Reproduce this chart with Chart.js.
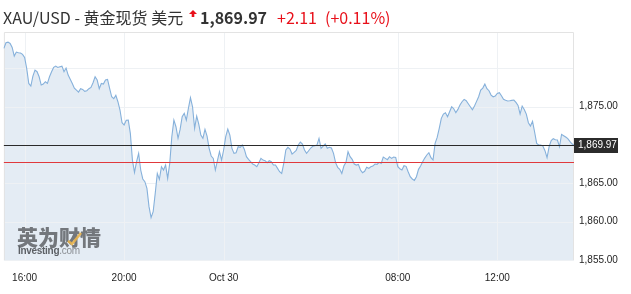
<!DOCTYPE html>
<html><head><meta charset="utf-8">
<script src="https://cdn.jsdelivr.net/npm/chart.js@4/dist/chart.umd.min.js"></script>
<style>
body{margin:0;background:#fff}
#wrap{position:relative;width:631px;height:294px;overflow:hidden}
canvas{position:absolute;left:0;top:0}
.t{position:absolute;top:9px;line-height:16px;font-size:16px;font-family:"Noto Sans CJK SC","Noto Sans",sans-serif;white-space:nowrap}
</style></head><body>
<div id="wrap">
<canvas id="c" width="631" height="294"></canvas>
<div class="t" id="ttl" style="left:3px;color:#333"></div>
<svg style="position:absolute;left:189px;top:10px" width="8" height="7"><polygon points="4,0 8,4 5.3,4 5.3,7 2.7,7 2.7,4 0,4" fill="#e8101a"/></svg>
<div class="t" id="px" style="left:200px;color:#333;font-weight:bold"></div>
<div class="t" id="chg" style="left:277px;color:#e8101a"></div>
<div class="t" id="pct" style="left:325px;color:#e8101a"></div>
<div style="position:absolute;left:17px;top:226px;font:900 21px/21px 'Noto Sans CJK SC';color:#73777c;white-space:nowrap">英为财情</div>
<svg style="position:absolute;left:0;top:0" width="631" height="294"><polyline points="68,241 72,244 81,233" fill="none" stroke="#e9b44c" stroke-width="2.6" opacity="0.9"/></svg>
<div style="position:absolute;left:18px;top:246px;font:10px/10px 'Liberation Sans';white-space:nowrap;letter-spacing:-0.3px"><b style="color:#5d6166">Investing</b><span style="color:#8a8e93">.com</span></div>
</div>
<script>
const titleText = 'XAU/USD - 黄金现货 美元';
const lastPrice = 1869.97;
const change = 2.11;
const changePct = 0.11;
const refLevel = 1867.75;

// 5-minute bars, Oct 29 15:10 -> Oct 30 15:05 (no data 05:00-06:00)
const times = [];
for (let d = 0; d < 2; d++) {
  for (let m = 0; m < 1440; m += 5) {
    if (d === 0 && m < 15 * 60 + 10) continue;
    if (d === 1 && m >= 5 * 60 && m < 6 * 60) continue;
    if (d === 1 && m > 15 * 60 + 5) continue;
    times.push(String(Math.floor(m / 60)).padStart(2, '0') + ':' + String(m % 60).padStart(2, '0'));
  }
}
const xTickLabels = {'16:00': '16:00', '20:00': '20:00', '00:00': 'Oct 30', '08:00': '08:00', '12:00': '12:00'};

const prices = [
1882.61,1883.35,1883.43,1883.26,1882.74,1881.61,1882.13,1882.04,1882.00,1881.83,
1881.43,1880.00,1878.04,1877.70,1879.00,1879.78,1879.57,1878.91,1877.83,1877.96,
1878.26,1878.04,1878.91,1879.57,1880.13,1880.30,1880.13,1880.22,1880.30,1879.57,
1880.04,1879.13,1878.57,1878.04,1877.43,1877.17,1876.91,1877.35,1877.26,1877.00,
1877.09,1877.35,1877.52,1878.13,1878.91,1878.48,1877.35,1878.04,1877.96,1878.48,
1878.57,1877.39,1876.30,1876.04,1876.48,1875.65,1874.57,1872.91,1872.61,1873.22,
1873.26,1871.52,1868.04,1866.43,1867.83,1868.91,1866.74,1865.57,1865.22,1864.35,
1861.96,1860.52,1861.30,1863.70,1866.30,1865.52,1867.17,1866.74,1867.39,1865.65,
1867.61,1871.09,1873.26,1872.39,1870.87,1872.04,1873.70,1874.13,1873.26,1874.78,
1876.17,1875.00,1872.17,1873.78,1872.74,1871.30,1870.87,1872.04,1871.17,1869.57,
1868.57,1868.26,1866.74,1867.96,1869.13,1868.04,1869.35,1871.09,1872.09,1871.30,
1869.57,1868.91,1869.00,1869.78,1869.70,1870.00,1869.43,1868.48,1868.13,1867.83,
1867.52,1867.39,1867.17,1867.70,1868.26,1868.04,1867.96,1867.70,1867.96,1867.83,
1867.39,1867.39,1866.96,1866.52,1866.30,1867.61,1869.35,1869.70,1869.48,1868.83,
1869.04,1869.30,1870.00,1870.39,1870.13,1869.35,1868.91,1869.26,1869.61,1869.83,
1869.91,1870.00,1870.87,1869.57,1869.87,1870.13,1869.57,1869.70,1869.61,1868.91,
1867.70,1867.09,1866.83,1866.30,1867.26,1867.74,1869.13,1868.48,1868.13,1867.52,
1867.39,1867.48,1866.74,1866.39,1866.57,1867.09,1866.96,1867.17,1867.26,1867.52,
1867.48,1867.74,1867.61,1868.43,1868.26,1868.09,1868.48,1868.26,1868.43,1868.39,
1867.17,1866.91,1866.74,1867.30,1867.22,1866.52,1865.87,1865.57,1865.39,1865.87,
1866.83,1867.26,1867.83,1868.30,1868.70,1869.00,1868.35,1868.04,1870.22,1871.00,
1872.17,1873.48,1874.04,1874.22,1873.70,1874.35,1875.00,1874.74,1874.22,1874.65,
1875.22,1875.65,1875.96,1875.78,1875.39,1875.00,1874.61,1875.09,1875.70,1876.30,
1877.17,1877.43,1877.96,1877.35,1877.09,1876.52,1876.30,1876.39,1876.74,1876.83,
1876.43,1875.96,1875.83,1875.74,1875.78,1875.83,1875.87,1875.57,1875.17,1874.04,
1875.09,1874.65,1874.04,1872.91,1872.48,1873.09,1871.70,1870.22,1870.00,1870.00,
1869.87,1869.26,1868.35,1869.78,1870.57,1870.83,1870.70,1870.65,1869.78,1871.39,
1871.22,1871.04,1870.83,1870.48,1870.17,1869.97
];

const yMin = 1855, yMax = 1884.75;
const yTickValues = [1855, 1860, 1865, 1870, 1875, 1880];
const yTickLabels = {1855: '1,855.00', 1860: '1,860.00', 1865: '1,865.00', 1875: '1,875.00'};

const fmt = v => v.toLocaleString('en-US', {minimumFractionDigits: 2, maximumFractionDigits: 2});
document.getElementById('ttl').textContent = titleText;
document.getElementById('px').textContent = fmt(lastPrice);
document.getElementById('chg').textContent = '+' + fmt(change);
document.getElementById('pct').textContent = '(+' + fmt(changePct) + '%)';

const overlay = {
  id: 'overlay',
  beforeDatasetDraw(chart, args) {
    if (args.index !== 0) return;
    const {ctx, chartArea: a, scales: {x, y}} = chart;
    ctx.save();
    ctx.strokeStyle = '#eef1f4';
    ctx.lineWidth = 1;
    ctx.beginPath();
    x.ticks.forEach((t, i) => {
      if (t.label === null || t.label === undefined || t.label === '') return;
      const px = Math.round(x.getPixelForTick(i)) + 0.5;
      ctx.moveTo(px, a.top); ctx.lineTo(px, a.bottom);
    });
    yTickValues.forEach(v => {
      const py = Math.round(y.getPixelForValue(v)) + 0.5;
      ctx.moveTo(a.left, py); ctx.lineTo(a.right, py);
    });
    ctx.stroke();
    ctx.strokeStyle = '#e3e3e3';
    ctx.beginPath();
    ctx.moveTo(a.left + 0.5, a.bottom); ctx.lineTo(a.left + 0.5, a.top + 0.5);
    ctx.lineTo(a.right - 0.5, a.top + 0.5); ctx.lineTo(a.right - 0.5, a.bottom);
    ctx.stroke();
    ctx.restore();
  },
  afterDatasetsDraw(chart) {
    const {ctx, chartArea: a, scales: {y}} = chart;
    ctx.save();
    ctx.lineWidth = 1;
    const pr = Math.round(y.getPixelForValue(refLevel)) + 0.5;
    ctx.strokeStyle = '#e0393c';
    ctx.beginPath(); ctx.moveTo(a.left, pr); ctx.lineTo(a.right, pr); ctx.stroke();
    const pl = Math.round(y.getPixelForValue(lastPrice)) + 0.5;
    ctx.strokeStyle = '#2a2a2a';
    ctx.beginPath(); ctx.moveTo(a.left, pl); ctx.lineTo(a.right, pl); ctx.stroke();
    ctx.restore();
  },
  afterDraw(chart) {
    const {ctx, chartArea: a, scales: {y}} = chart;
    const py = y.getPixelForValue(lastPrice);
    ctx.save();
    ctx.fillStyle = '#2b2b2b';
    ctx.fillRect(a.right, Math.round(py) - 7, 44, 15);
    ctx.fillStyle = '#ffffff';
    ctx.font = '10px "Liberation Sans", Arial, sans-serif';
    ctx.textBaseline = 'middle';
    ctx.textAlign = 'left';
    ctx.fillText(fmt(lastPrice), a.right + 4, Math.round(py) + 0.5);
    ctx.restore();
  }
};

new Chart(document.getElementById('c'), {
  type: 'line',
  data: {
    labels: times,
    datasets: [{
      data: prices,
      borderColor: '#86b1db',
      borderWidth: 1.1,
      backgroundColor: 'rgba(205,221,235,0.55)',
      fill: 'start',
      pointRadius: 0,
      tension: 0
    }]
  },
  options: {
    responsive: false,
    animation: false,
    devicePixelRatio: 1,
    layout: {padding: {top: 32, left: 3, right: 0, bottom: 0}},
    plugins: {legend: {display: false}, tooltip: {enabled: false}, filler: {drawTime: 'beforeDatasetsDraw'}},
    scales: {
      x: {
        type: 'category',
        grid: {display: false, drawTicks: false},
        border: {display: false},
        ticks: {
          autoSkip: false, maxRotation: 0, minRotation: 0, padding: 12,
          color: '#1e1e1e', font: {family: '"Liberation Sans", Arial, sans-serif', size: 10},
          callback: function(v, i) { const l = times[i]; return xTickLabels[l] !== undefined ? xTickLabels[l] : null; }
        },
        afterFit: s => { s.height = 34; }
      },
      y: {
        position: 'right',
        min: yMin, max: yMax,
        grid: {display: false, drawTicks: false},
        border: {display: false},
        afterBuildTicks: s => { s.ticks = yTickValues.map(v => ({value: v})); },
        ticks: {
          padding: 5, color: '#1e1e1e', font: {family: '"Liberation Sans", Arial, sans-serif', size: 10},
          callback: v => yTickLabels[v] || ''
        },
        afterFit: s => { s.width = 57; }
      }
    }
  },
  plugins: [overlay]
});
</script>
</body></html>
